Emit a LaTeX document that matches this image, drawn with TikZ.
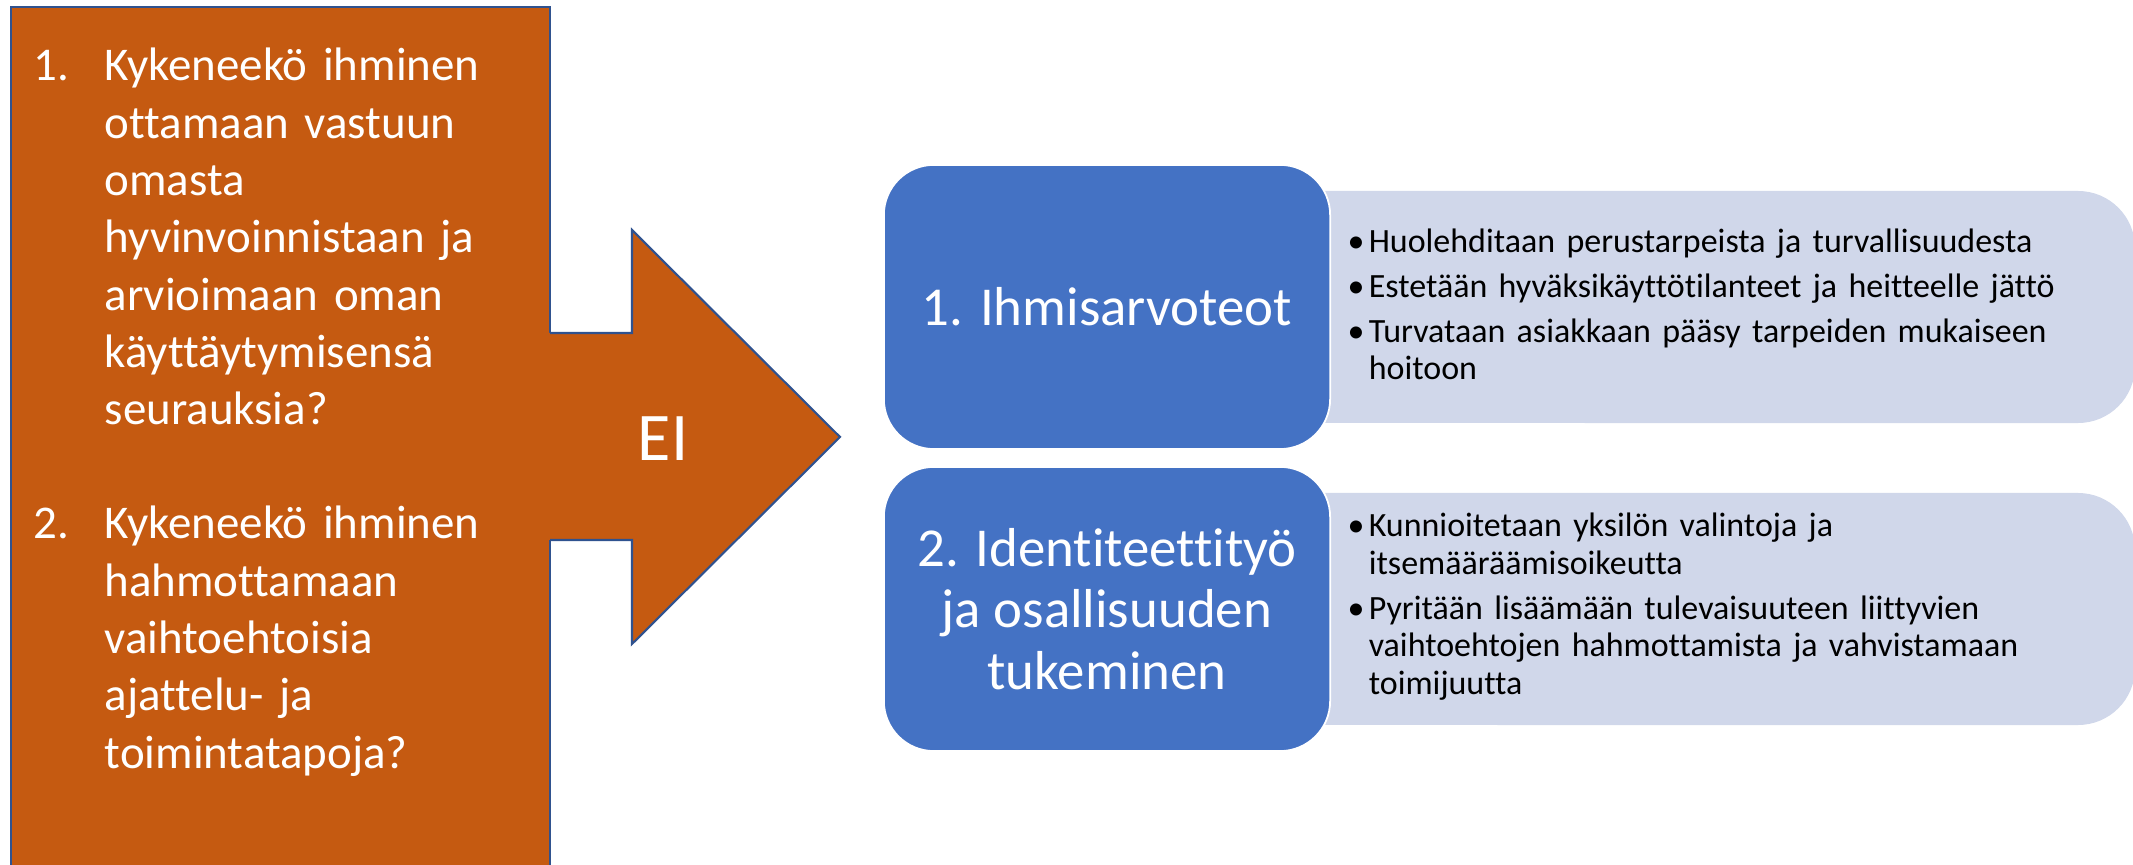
\documentclass[tikz,border=0pt]{standalone}
\usepackage{fontspec}
\setmainfont[Ligatures = NoCommon]{Carlito}
\usetikzlibrary{positioning}
\definecolor{rust}{HTML}{C55A11}
\definecolor{edgeblue}{HTML}{2F528F}
\definecolor{boxblue}{HTML}{4472C4}
\definecolor{paleblue}{HTML}{D0D7EA}
\tikzset{
    outline/.style = {draw = edgeblue, line width = 0.6pt},
    question/.style = {anchor = north west, inner sep = 0, text = white, align = left, text width = 4.45cm, font = \fontsize{13.35}{16.3}\selectfont},
    level/.style = {draw = white, line width = 0.5pt, fill = boxblue, rounded corners = 0.5cm, minimum width = 4.46cm, minimum height = 2.84cm, text = white, align = center, font = \fontsize{15.6}{17.5}\selectfont},
    measures/.style = {anchor = base west, inner sep = 0, text width = 7.7cm, font = \fontsize{9.66}{10.67}\selectfont}
}
\newcommand{\bulletitem}{\hangindent = 6pt\hangafter = 1\noindent\makebox[6pt][l]{•}}
\begin{document}
\begin{tikzpicture}[x = 0.01cm, y = -0.01cm]
        \useasboundingbox (0,0) rectangle (2133,865);
        \draw[outline, fill = rust] (11,880) -- (11,7) -- (550,7) -- (550,880);
        \fill[rust] (549,333) -- (632,333) -- (632,230) -- (840,437) -- (632,644) -- (632,540) -- (549,540) -- cycle;
        \draw[outline] (550,333) -- (632,333) -- (632,230) -- (840,437) -- (632,644) -- (632,540) -- (550,540);
        \node[text = white, inner sep = 0, font = \fontsize{19.4}{23}\selectfont] (ei) at (663,439) {EI};
        \node[question, text width = 1cm] (num1) at (33,40) {\strut 1.};
        \node[question] (q1) at (104,40) {\strut Kykeneekö ihminen\\ ottamaan vastuun\\ omasta\\ hyvinvoinnistaan ja\\ arvioimaan oman\\ käyttäytymisensä\\ seurauksia?};
        \node[question, text width = 1cm] (num2) at (33,498) {\strut 2.};
        \node[question] (q2) at (104,498) {\strut Kykeneekö ihminen\\ hahmottamaan\\ vaihtoehtoisia\\ ajattelu- ja\\ toimintatapoja?};
        \begin{scope}[fill = paleblue]
            \fill (1300,191) -- (2078,191) arc[start angle = 90, end angle = 0, radius = 0.57cm] -- (2135,366) arc[start angle = 0, end angle = -90, radius = 0.57cm] -- (1300,423) -- cycle;
            \fill (1300,493) -- (2078,493) arc[start angle = 90, end angle = 0, radius = 0.57cm] -- (2135,668) arc[start angle = 0, end angle = -90, radius = 0.57cm] -- (1300,725) -- cycle;
        \end{scope}
        \node[level] (human) at (1107,307) {1. Ihmisarvoteot};
        \node[level] (identity) at (1107,609) {2. Identiteettityö\\ ja osallisuuden\\ tukeminen};
        \node[measures] (care) at (1347,253) {\setlength{\parskip}{0pt}%
            \bulletitem Huolehditaan perustarpeista ja turvallisuudesta\par\vspace{2pt}
            \bulletitem Estetään hyväksikäyttötilanteet ja heitteelle jättö\par\vspace{2pt}
            \bulletitem Turvataan asiakkaan pääsy tarpeiden mukaiseen\newline hoitoon\par};
        \node[measures] (agency) at (1347,537) {\setlength{\parskip}{0pt}%
            \bulletitem Kunnioitetaan yksilön valintoja ja\newline itsemääräämisoikeutta\par\vspace{2pt}
            \bulletitem Pyritään lisäämään tulevaisuuteen liittyvien\newline vaihtoehtojen hahmottamista ja vahvistamaan\newline toimijuutta\par};
    \end{tikzpicture}
\end{document}
